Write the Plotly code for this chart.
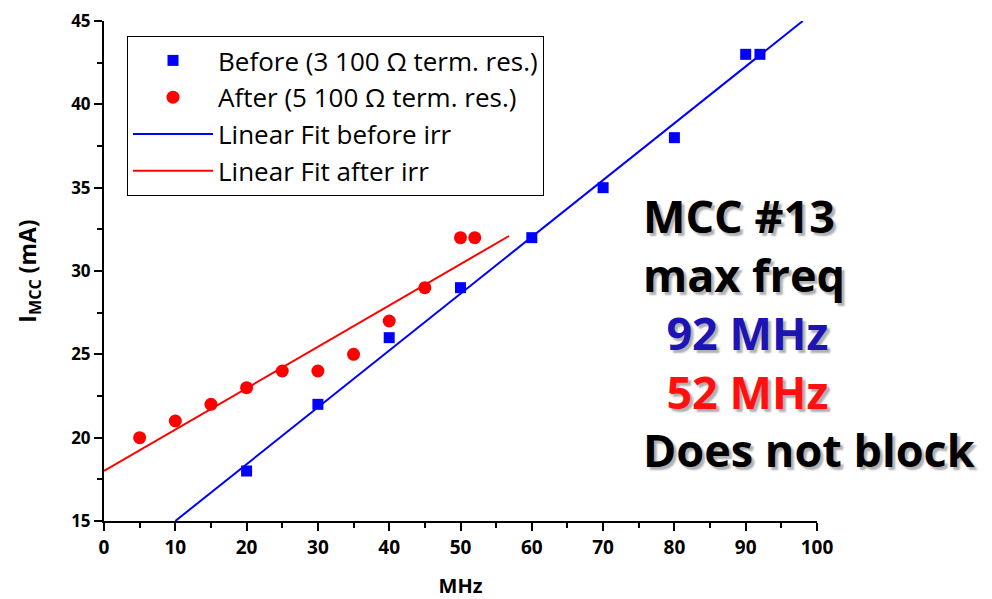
import plotly.graph_objects as go

# Data
before_x = [20, 30, 40, 50, 60, 70, 80, 90, 92]
before_y = [18, 22, 26, 29, 32, 35, 38, 43, 43]
after_x = [5, 10, 15, 20, 25, 30, 35, 40, 45, 50, 52]
after_y = [20, 21, 22, 23, 24, 24, 25, 27, 29, 32, 32]
fit_before_x = [10, 98]
fit_before_y = [15, 45]
fit_after_x = [0, 56.8]
fit_after_y = [18, 32.1]

names = ["Before (3 100 \u03a9 term. res.)", "After (5 100 \u03a9 term. res.)",
         "Linear Fit before irr", "Linear Fit after irr"]
note_lines = ["MCC #13", "max freq", "92 MHz", "52 MHz", "Does not block"]
note_colors = ["black", "black", "#1c14b4", "#ff1010", "black"]
note_indent = [0, 0, 2, 2, 0]

FONT = "Open Sans"
fig = go.Figure()
fig.add_trace(go.Scatter(x=before_x, y=before_y, mode="markers", name=names[0],
                         marker=dict(symbol="square", size=11, color="#0000ff"),
                         legendgroup="a"))
fig.add_trace(go.Scatter(x=after_x, y=after_y, mode="markers", name=names[1],
                         marker=dict(symbol="circle", size=13, color="#ff0000"),
                         legendgroup="b"))
fig.add_trace(go.Scatter(x=fit_before_x, y=fit_before_y, mode="lines", name=names[2],
                         line=dict(color="#0000ff", width=2), legendgroup="c"))
fig.add_trace(go.Scatter(x=fit_after_x, y=fit_after_y, mode="lines", name=names[3],
                         line=dict(color="#ff0000", width=2), legendgroup="d"))

axis_common = dict(showline=True, linecolor="black", linewidth=2, ticks="outside",
                   ticklen=8, tickwidth=2, tickcolor="black", showgrid=False,
                   zeroline=False, mirror=False, automargin=False,
                   ticklabeloverflow="allow")
fig.update_xaxes(range=[0, 100], dtick=10, tick0=0,
                 minor=dict(ticks="outside", dtick=5, ticklen=5, tickwidth=2, tickcolor="black"),
                 title=dict(text="<b>MHz</b>", font=dict(family=FONT, size=20, color="black"), standoff=22),
                 tickfont=dict(family=FONT, size=19, color="black", weight="bold"),
                 **axis_common)
fig.update_yaxes(range=[15, 45], dtick=5, tick0=15,
                 minor=dict(ticks="outside", dtick=2.5, ticklen=5, tickwidth=2, tickcolor="black"),
                 title=dict(text="<b>I<sub>MCC</sub> (mA)</b>", font=dict(family=FONT, size=23, color="black"), standoff=28),
                 tickfont=dict(family=FONT, size=17, color="black", weight="bold"),
                 **axis_common)

# page body has an 8px margin: figure origin sits at (8, 8) in the window
OFF = 8
BOTTOM = 521
PL, PT, PW = 104 - OFF, 21 - OFF, 713
PH = BOTTOM - OFF - PT

parts = []
for txt, col, ind in zip(note_lines, note_colors, note_indent):
    parts.append("&nbsp;" * ind + f"<span style='color:{col}'>{txt}</span>")
note_text = "<br>".join(parts)
fig.add_annotation(x=(645 - 104) / PW, y=(BOTTOM - 332) / PH, xref="paper", yref="paper",
                   text=note_text, showarrow=False, align="left",
                   xanchor="left", yanchor="middle", xshift=-4,
                   font=dict(family=FONT, size=45, color="black", weight="bold",
                             shadow="3px 3px 2px #b0b0b0"))

W, H = 992 - OFF, 599 - OFF
fig.update_layout(
    width=W, height=H,
    margin=dict(l=PL, r=W - PL - PW, t=PT, b=H - PT - PH),
    plot_bgcolor="white", paper_bgcolor="white",
    legend=dict(x=(127 - 104) / PW, y=(BOTTOM - 36) / PH, xanchor="left", yanchor="top",
                bordercolor="black", borderwidth=1, bgcolor="white",
                font=dict(family=FONT, size=26, color="black"),
                itemwidth=80, tracegroupgap=0),
    showlegend=True,
)
fig.write_html("out.html")
